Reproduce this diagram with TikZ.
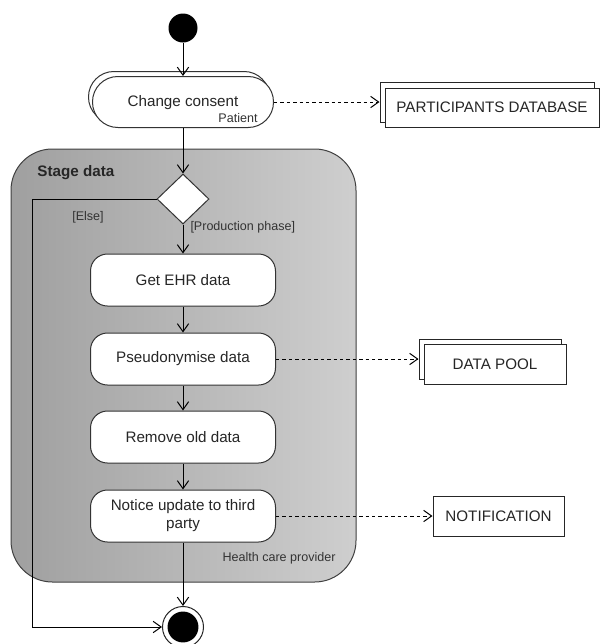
\documentclass[tikz,border=0pt]{standalone}
\usepackage{fontspec}
\setmainfont{Liberation Sans}
\usetikzlibrary{shapes.geometric,arrows.meta}
\begin{document}
\begin{tikzpicture}[x=0.75pt,y=-0.75pt,
  font=\fontsize{11.4}{13.5}\selectfont,text=black!85,line width=0.75pt,
  smalltext/.style={font=\fontsize{9.4}{11}\selectfont,text=black!80,inner sep=0pt},
  flow/.style={-{Straight Barb[length=6pt,width=8.5pt]}},
  dataflow/.style={flow,dash pattern=on 2.6pt off 2.2pt},
  action/.style={draw=black!80,fill=white,rounded corners=12.75pt,inner sep=0pt,
    minimum width=138.75pt,minimum height=39pt,align=center},
  callaction/.style={draw=black!80,fill=white,rounded corners=19pt,inner sep=0pt,
    minimum width=135.75pt,minimum height=38.25pt},
  objbox/.style={draw=black!85,fill=white,inner sep=0pt,minimum height=30pt},
  startnode/.style={circle,fill=black,inner sep=0pt,minimum size=21.75pt},
  decision/.style={diamond,draw=black!80,fill=white,inner sep=0pt,
    minimum width=39pt,minimum height=37.5pt},
  endnode/.style={circle,draw=black!85,fill=white,inner sep=0pt,minimum size=30.75pt,
    path picture={\fill[black] (path picture bounding box.center) circle (11.6pt);}}]
  \useasboundingbox (0,0) rectangle (600,644);

  \draw[black!75,left color=gray!75,right color=gray!38,rounded corners=31pt]
    (11,149) rectangle (356,582);
  \node[anchor=west,font=\fontsize{11.4}{13.5}\bfseries,inner sep=0pt] (stage) at (37,173) {Stage data};
  \node[smalltext,anchor=east] (hcp) at (336,558) {Health care provider};

  \node[startnode] (start) at (183,28) {};
  \node[callaction] (consentback) at (179,97) {};
  \node[callaction] (consent) at (183,102) {};
  \node at (183,103) {Change consent};
  \node[smalltext,anchor=east] (patient) at (258,118) {Patient};

  \node[objbox,minimum width=160.5pt] (pdback) at (487,102.5) {};
  \node[objbox,minimum width=160.5pt,minimum height=29.25pt] (pd) at (492,107.5) {PARTICIPANTS DATABASE};

  \node[decision] (dec) at (183,199) {};
  \node[action] (ehr) at (183,280) {Get EHR data};
  \node[action] (pseudo) at (183,359) {Pseudonymise data};
  \node[action] (remove) at (183,437) {Remove old data};
  \node[action] (notice) at (183,516) {Notice update to third\\party};
  \node[endnode] (final) at (183,627) {};

  \node[objbox,minimum width=106.5pt] (poolback) at (490,359) {};
  \node[objbox,minimum width=106.5pt] (pool) at (495,364) {DATA POOL};
  \node[objbox,minimum width=98.25pt] (notif) at (498.5,516) {NOTIFICATION};

  \node[smalltext] (elselbl) at (88,217) {[Else]};
  \node[smalltext,anchor=west] (prodlbl) at (190,227) {[Production phase]};

  \draw[flow] (start) -- (consent);
  \draw[flow] (consent) -- (dec);
  \draw[flow] (dec) -- (ehr);
  \draw[flow] (ehr) -- (pseudo);
  \draw[flow] (pseudo) -- (remove);
  \draw[flow] (remove) -- (notice);
  \draw[flow] (notice) -- (final);
  \draw[flow] (dec.west) -- ++(-124,0) |- (final.west);

  \draw[dataflow] (consent.east) -- (consent.east -| pdback.west);
  \draw[dataflow] (pseudo.east) -- (poolback.west);
  \draw[dataflow] (notice.east) -- (notif.west);
\end{tikzpicture}
\end{document}
